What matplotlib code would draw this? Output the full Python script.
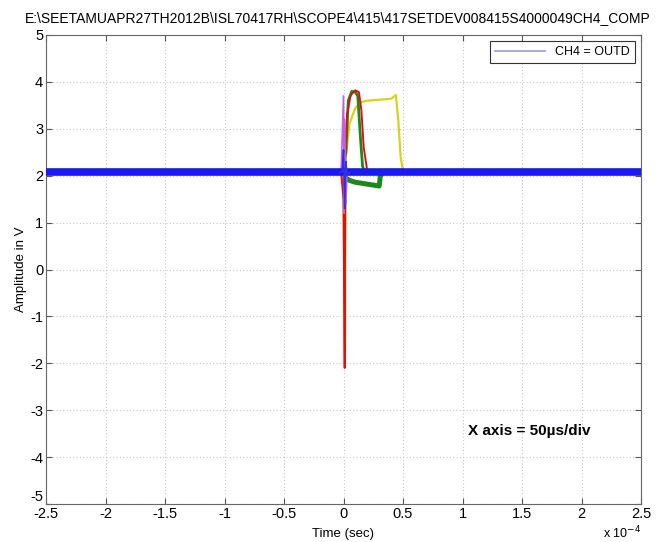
import numpy as np
import matplotlib.pyplot as plt

plt.rcParams['font.family'] = ['Liberation Sans', 'DejaVu Sans']

# time in units of 1e-4 s, amplitude in V
t_base = [-2.5, 2.5]
v_base = [2.07, 2.07]

t_red = [-0.02, 0.0, 0.01, 0.015, 0.03, 0.06, 0.1, 0.13, 0.15, 0.17, 0.2, 0.25]
v_red = [2.07, 1.5, -2.1, 2.4, 3.3, 3.72, 3.82, 3.78, 3.4, 2.6, 2.1, 2.07]

t_yel = [-0.02, 0.0, 0.012, 0.02, 0.05, 0.1, 0.15, 0.2, 0.3, 0.4, 0.44, 0.46, 0.48, 0.5]
v_yel = [2.07, 1.9, -2.0, 2.4, 3.1, 3.45, 3.57, 3.6, 3.62, 3.64, 3.72, 3.2, 2.4, 2.1]

t_grn = [-0.02, 0.02, 0.04, 0.07, 0.1, 0.12, 0.14, 0.16, 0.18]
v_grn = [2.07, 2.5, 3.6, 3.8, 3.78, 3.7, 2.9, 2.2, 2.07]

t_grn_low = [0.02, 0.05, 0.1, 0.2, 0.3, 0.31, 0.33]
v_grn_low = [1.95, 1.9, 1.86, 1.82, 1.78, 2.0, 2.07]

t_mag = [-0.02, 0.0, 0.005, 0.01, 0.02, 0.03]
v_mag = [2.07, 3.7, 1.2, 3.2, 1.4, 2.07]

t_blu = [-0.03, -0.01, 0.0, 0.01, 0.02, 0.03, 0.05]
v_blu = [2.07, 2.1, 2.55, 1.3, 2.3, 2.0, 2.07]

x_ticks = [-2.5, -2, -1.5, -1, -0.5, 0, 0.5, 1, 1.5, 2, 2.5]
y_ticks = [-5, -4, -3, -2, -1, 0, 1, 2, 3, 4, 5]

fig = plt.figure(figsize=(6.62, 5.42), dpi=100)
ax = fig.add_axes([46 / 662, 1 - 504 / 542, 595 / 662, 469 / 542])

ax.plot(t_yel, v_yel, color='#d4d41c', lw=1.6, zorder=2)
ax.plot(t_grn_low, v_grn_low, color='#1a8a1a', lw=3.6, zorder=2)
ax.plot(t_grn, v_grn, color='#1a8a1a', lw=2.0, zorder=3)
ax.plot(t_red, v_red, color='#e01010', lw=1.4, zorder=3)
ax.plot(t_mag, v_mag, color='#c060e0', lw=1.2, zorder=3)
ax.plot(t_base, v_base, color='#1a1aee', lw=5.5, zorder=4)
ax.plot(t_blu, v_blu, color='#3030e8', lw=1.2, zorder=5)

# legend handle only
ax.plot([], [], color='#9a9ae0', lw=1.2, label='CH4 = OUTD')
leg = ax.legend(loc='upper right', fontsize=9, fancybox=False, framealpha=1,
                edgecolor='#333333', handlelength=4.0, borderaxespad=0.5)
leg.get_frame().set_linewidth(0.8)

ax.set_xlim(-2.5, 2.5)
ax.set_ylim(-5, 5)
ax.set_xticks(x_ticks)
ax.set_yticks(y_ticks)
ax.set_xticklabels([f'{v:g}' for v in x_ticks])
ax.set_yticklabels([f'{v:g}' for v in y_ticks])
ax.tick_params(direction='in', top=True, right=True, labelsize=10.5,
               length=4, color='#555555', pad=2)
ax.get_yticklabels()[0].set_va('bottom')
ax.grid(True, color='#c8c8c8', linestyle=(0, (1, 2)), lw=0.8)
for s in ax.spines.values():
    s.set_color('#666666')
    s.set_linewidth(0.8)

ax.set_xlabel('Time (sec)', fontsize=9.5, labelpad=5)
ax.set_ylabel('Amplitude in V', fontsize=9.5, labelpad=2)
ax.text(1.0, -0.045, r'x 10$^{-4}$', transform=ax.transAxes, fontsize=9,
        ha='right', va='top')

ax.text(1.05, -3.45, 'X axis = 50\u00b5s/div', fontsize=11, fontweight='bold',
        ha='left', va='center')

fig.text(338 / 662, 1 - 18 / 542,
         'E:\\SEETAMUAPR27TH2012B\\ISL70417RH\\SCOPE4\\415\\417SETDEV008415S4000049CH4_COMP',
         fontsize=10, ha='center', va='center')

fig.savefig('out.png', dpi=100)
